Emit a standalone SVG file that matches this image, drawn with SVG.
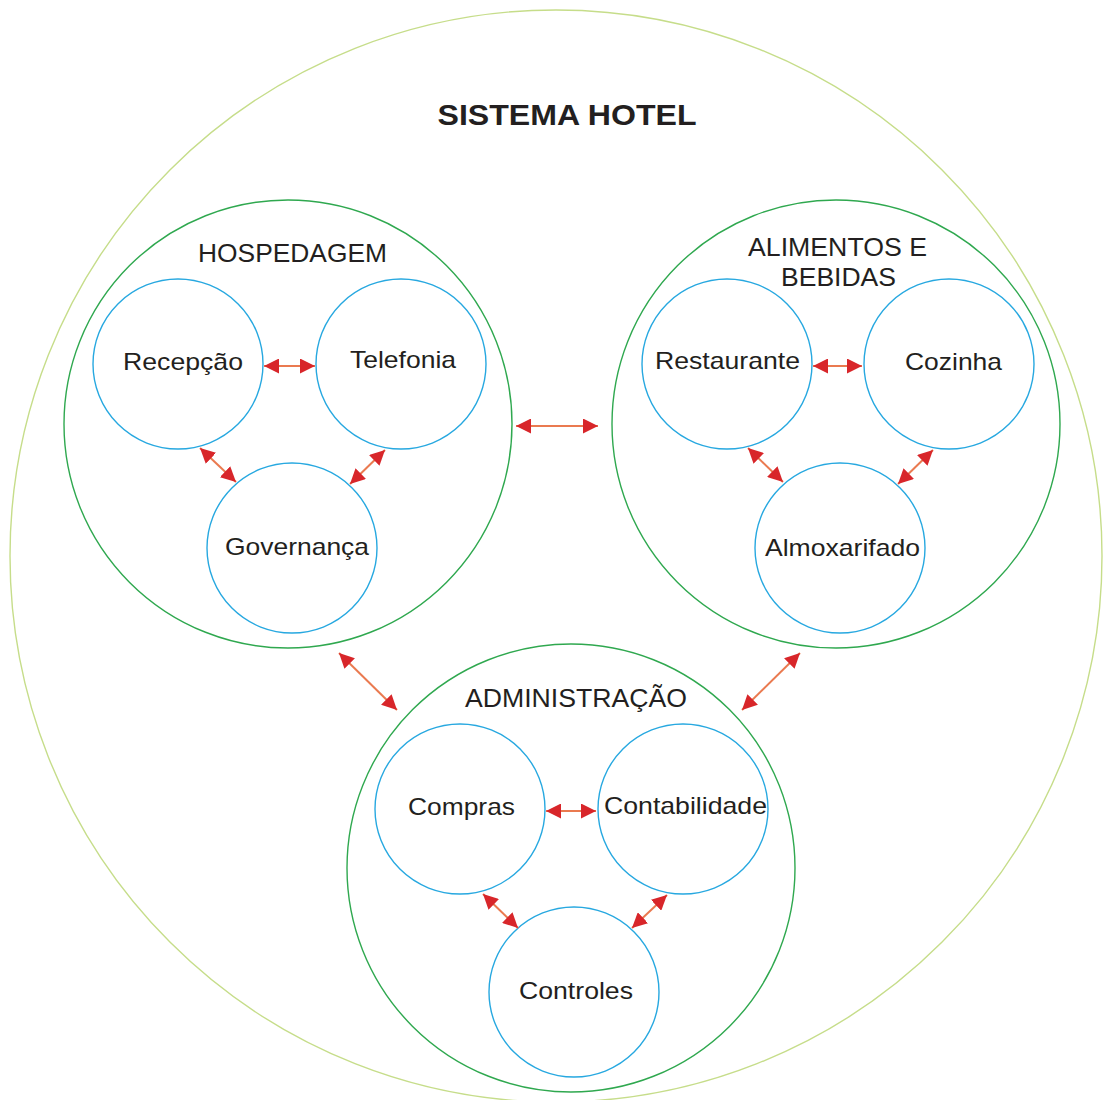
<svg xmlns="http://www.w3.org/2000/svg" width="1103" height="1100" viewBox="0 0 1103 1100">
  <style>
    .system { fill: none; stroke: #c6dd8a; stroke-width: 1.4; }
    .area { fill: none; stroke: #2fa84f; stroke-width: 1.4; }
    .unit { fill: none; stroke: #27a8e0; stroke-width: 1.4; }
    .link { stroke: #ea7a50; stroke-width: 2; fill: none; marker-start: url(#head); marker-end: url(#head); }
    text { font-family: "Liberation Sans", Arial, sans-serif; fill: #231f20; text-anchor: middle; }
    .title { font-size: 30px; font-weight: bold; }
    .area-label { font-size: 25px; }
    .unit-label { font-size: 24px; }
  </style>
  <defs>
    <marker id="head" viewBox="0 0 10 10" refX="10" refY="5" markerWidth="7.5" markerHeight="7.5" markerUnits="strokeWidth" orient="auto-start-reverse">
      <path d="M0,0 L10,5 L0,10 Z" fill="#d8262a"/>
    </marker>
  </defs>
  <rect width="1103" height="1100" fill="#ffffff"/>

  <g id="sistema-hotel">
    <circle class="system" cx="556" cy="556" r="546"/>
    <text class="title" x="567" y="125" textLength="259" lengthAdjust="spacingAndGlyphs">SISTEMA HOTEL</text>
  </g>

  <g id="hospedagem">
    <circle class="area" cx="288" cy="424" r="224"/>
    <text class="area-label" x="292.5" y="262" textLength="189" lengthAdjust="spacingAndGlyphs">HOSPEDAGEM</text>
  </g>
  <g id="recepcao">
    <circle class="unit" cx="178" cy="364" r="85"/>
    <text class="unit-label" x="183" y="370" textLength="120" lengthAdjust="spacingAndGlyphs">Recepção</text>
  </g>
  <g id="telefonia">
    <circle class="unit" cx="401" cy="364" r="85"/>
    <text class="unit-label" x="403" y="368" textLength="106" lengthAdjust="spacingAndGlyphs">Telefonia</text>
  </g>
  <g id="governanca">
    <circle class="unit" cx="292" cy="548" r="85"/>
    <text class="unit-label" x="297" y="555" textLength="144" lengthAdjust="spacingAndGlyphs">Governança</text>
  </g>

  <g id="alimentos-e-bebidas">
    <circle class="area" cx="836" cy="424" r="224"/>
    <text class="area-label" x="837.5" y="256" textLength="179" lengthAdjust="spacingAndGlyphs">ALIMENTOS E</text>
    <text class="area-label" x="838.5" y="286" textLength="115" lengthAdjust="spacingAndGlyphs">BEBIDAS</text>
  </g>
  <g id="restaurante">
    <circle class="unit" cx="727" cy="364" r="85"/>
    <text class="unit-label" x="727.5" y="369" textLength="145" lengthAdjust="spacingAndGlyphs">Restaurante</text>
  </g>
  <g id="cozinha">
    <circle class="unit" cx="949" cy="364" r="85"/>
    <text class="unit-label" x="953.5" y="370" textLength="97" lengthAdjust="spacingAndGlyphs">Cozinha</text>
  </g>
  <g id="almoxarifado">
    <circle class="unit" cx="840" cy="548" r="85"/>
    <text class="unit-label" x="842.5" y="556" textLength="155" lengthAdjust="spacingAndGlyphs">Almoxarifado</text>
  </g>

  <g id="administracao">
    <circle class="area" cx="571" cy="868" r="224"/>
    <text class="area-label" x="576" y="707" textLength="222" lengthAdjust="spacingAndGlyphs">ADMINISTRAÇÃO</text>
  </g>
  <g id="compras">
    <circle class="unit" cx="460" cy="809" r="85"/>
    <text class="unit-label" x="461.5" y="815" textLength="107" lengthAdjust="spacingAndGlyphs">Compras</text>
  </g>
  <g id="contabilidade">
    <circle class="unit" cx="683" cy="809" r="85"/>
    <text class="unit-label" x="685.5" y="814" textLength="163" lengthAdjust="spacingAndGlyphs">Contabilidade</text>
  </g>
  <g id="controles">
    <circle class="unit" cx="574" cy="992" r="85"/>
    <text class="unit-label" x="576" y="999" textLength="114" lengthAdjust="spacingAndGlyphs">Controles</text>
  </g>

  <g id="connectors">
    <line class="link" x1="264" y1="366" x2="315" y2="366"/>
    <line class="link" x1="200" y1="448" x2="236" y2="482"/>
    <line class="link" x1="385" y1="450" x2="350" y2="484"/>
    <line class="link" x1="516" y1="426" x2="598" y2="426"/>
    <line class="link" x1="813" y1="366" x2="862" y2="366"/>
    <line class="link" x1="748" y1="448" x2="783" y2="482"/>
    <line class="link" x1="933" y1="450" x2="898" y2="484"/>
    <line class="link" x1="546" y1="811" x2="596" y2="811"/>
    <line class="link" x1="483" y1="894" x2="518" y2="928"/>
    <line class="link" x1="667" y1="895" x2="632" y2="928"/>
    <line class="link" x1="339" y1="653" x2="397" y2="710"/>
    <line class="link" x1="800" y1="653" x2="742" y2="710"/>
  </g>
</svg>
